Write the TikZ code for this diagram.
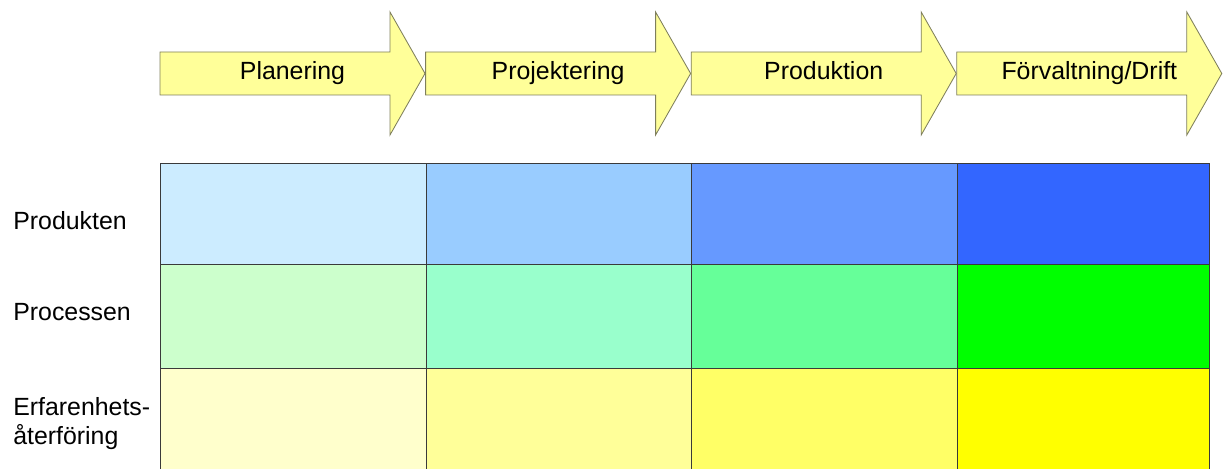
\documentclass[tikz,border=0pt]{standalone}
\usepackage{fontspec}
\setmainfont{Liberation Sans}
\definecolor{phasefill}{HTML}{FFFF99}
\definecolor{phaseline}{HTML}{7F7F5C}
\definecolor{gridline}{HTML}{3A3A3A}
% row shades, light to strong
\definecolor{prod0}{HTML}{CCECFF}
\definecolor{prod1}{HTML}{99CCFF}
\definecolor{prod2}{HTML}{6699FF}
\definecolor{prod3}{HTML}{3366FF}
\definecolor{proc0}{HTML}{CCFFCC}
\definecolor{proc1}{HTML}{99FFCC}
\definecolor{proc2}{HTML}{66FF99}
\definecolor{proc3}{HTML}{00FF00}
\definecolor{erf0}{HTML}{FFFFCC}
\definecolor{erf1}{HTML}{FFFF99}
\definecolor{erf2}{HTML}{FFFF66}
\definecolor{erf3}{HTML}{FFFF00}
\def\labelfont{\fontsize{17.7}{20.4}\selectfont}

\begin{document}
\begin{tikzpicture}

  \useasboundingbox (0,0) rectangle (30.575,11.725);

  % === Phase arrows along the top ===
  \def\ax{4.0}        % left end of first arrow
  \def\astep{6.64}    % arrow spacing
  \def\alen{6.625}    % arrow length, tip included
  \def\ahead{0.875}   % head length
  \def\abody{0.5375}  % half body height
  \def\awing{1.5375}  % half head height
  \def\ay{9.8875}     % arrow axis
  \def\abase{9.725}   % text baseline

  \foreach \i/\name/\txt in {0/planering/Planering, 1/projektering/Projektering,
                             2/produktion/Produktion, 3/drift/{Förvaltning/Drift}} {
    \pgfmathsetmacro{\xa}{\ax + \i*\astep}
    \pgfmathsetmacro{\xb}{\xa + \alen - \ahead}
    \pgfmathsetmacro{\xc}{\xa + \alen}
    \filldraw[fill=phasefill, draw=phaseline, line width=0.6pt]
      (\xa, \ay-\abody) -- (\xb, \ay-\abody) -- (\xb, \ay-\awing) -- (\xc, \ay)
      -- (\xb, \ay+\awing) -- (\xb, \ay+\abody) -- (\xa, \ay+\abody) -- cycle;
    \node[font=\labelfont, anchor=base] (\name) at ({\xa + \alen/2}, \abase) {\txt};
  }

  % === Matrix of coloured cells ===
  \foreach \r/\rname/\yt/\yb in {0/prod/7.65/5.125, 1/proc/5.125/2.525, 2/erf/2.525/-0.1} {
    \foreach \c/\xl/\xr in {0/4.0/10.65, 1/10.65/17.275, 2/17.275/23.925, 3/23.925/30.225} {
      \filldraw[fill=\rname\c, draw=gridline, line width=0.6pt] (\xl, \yt) rectangle (\xr, \yb);
    }
  }

  % Row labels
  \node[font=\labelfont, anchor=base west, inner sep=0pt] (produkten) at (0.325, 5.975) {Produkten};
  \node[font=\labelfont, anchor=base west, inner sep=0pt] (processen) at (0.325, 3.7) {Processen};
  \node[font=\labelfont, anchor=west, align=left, inner sep=0pt] (erfarenhet) at (0.325, 1.13)
    {Erfarenhets-\\återföring};

\end{tikzpicture}
\end{document}
